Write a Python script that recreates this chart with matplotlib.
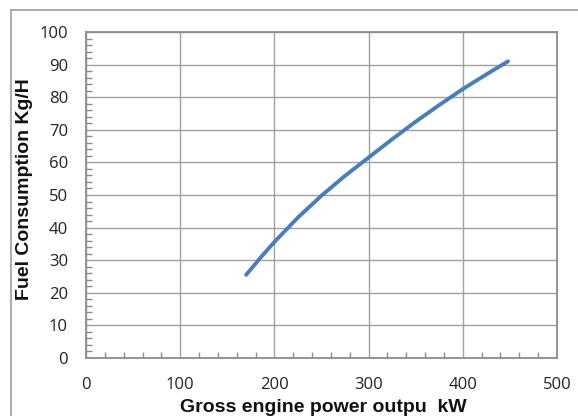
import matplotlib
matplotlib.use("Agg")
import matplotlib.pyplot as plt
from matplotlib.ticker import MultipleLocator
from matplotlib.lines import Line2D

# data
power_kw = [170, 185, 200, 225, 250, 275, 300, 325, 350, 375, 400, 425, 448]
fuel_kgh = [25.5, 30.7, 35.6, 43.1, 49.8, 55.9, 61.5, 67.1, 72.5, 77.6, 82.5, 87.0, 91.0]

x_ticks = [0, 100, 200, 300, 400, 500]
y_ticks = [0, 10, 20, 30, 40, 50, 60, 70, 80, 90, 100]

W, H = 578, 416
fig = plt.figure(figsize=(W / 100, H / 100), dpi=100)
ax = fig.add_axes([86 / W, 1 - 358 / H, (557 - 86) / W, (358 - 32) / H])

# outer chart border (only top and left are visible in the crop)
fig.add_artist(Line2D([11 / W, 11 / W], [0, 1 - 10 / H], color='#a0a0a0', lw=1.2, transform=fig.transFigure))
fig.add_artist(Line2D([11 / W, 1], [1 - 10 / H, 1 - 10 / H], color='#a0a0a0', lw=1.2, transform=fig.transFigure))

ax.plot(power_kw, fuel_kgh, color='#4a7ebb', lw=2.8, solid_capstyle='round',
        solid_joinstyle='round', zorder=3)

ax.set_xlim(0, 500)
ax.set_ylim(0, 100)
ax.set_xticks(x_ticks)
ax.set_yticks(y_ticks)
ax.xaxis.set_minor_locator(MultipleLocator(20))
ax.yaxis.set_minor_locator(MultipleLocator(2))

ax.grid(True, which='major', color='#a0a0a0', lw=1.0)
ax.set_axisbelow(True)
for s in ax.spines.values():
    s.set_color('#8c8c8c')
    s.set_linewidth(1.3)

ax.tick_params(which='major', length=0, labelsize=12, colors='#222222')
ax.tick_params(axis='x', which='major', pad=13.5)
ax.tick_params(axis='y', which='major', pad=13)
ax.tick_params(which='minor', direction='in', length=4, color='#8c8c8c', width=1)
for lab in ax.get_xticklabels() + ax.get_yticklabels():
    lab.set_fontfamily(['Open Sans', 'DejaVu Sans'])

fig.text(323 / W, 1 - 412.5 / H, 'Gross engine power outpu  kW', ha='center', va='baseline',
         fontsize=14, fontweight='bold', family=['Liberation Sans', 'DejaVu Sans'], color='#111111')
fig.text(25 / W, 1 - 189 / H, 'Fuel Consumption Kg/H', ha='center', va='center', rotation=90,
         fontsize=14, fontweight='bold', family=['Liberation Sans', 'DejaVu Sans'], color='#111111')

fig.savefig('out.png', dpi=100)
